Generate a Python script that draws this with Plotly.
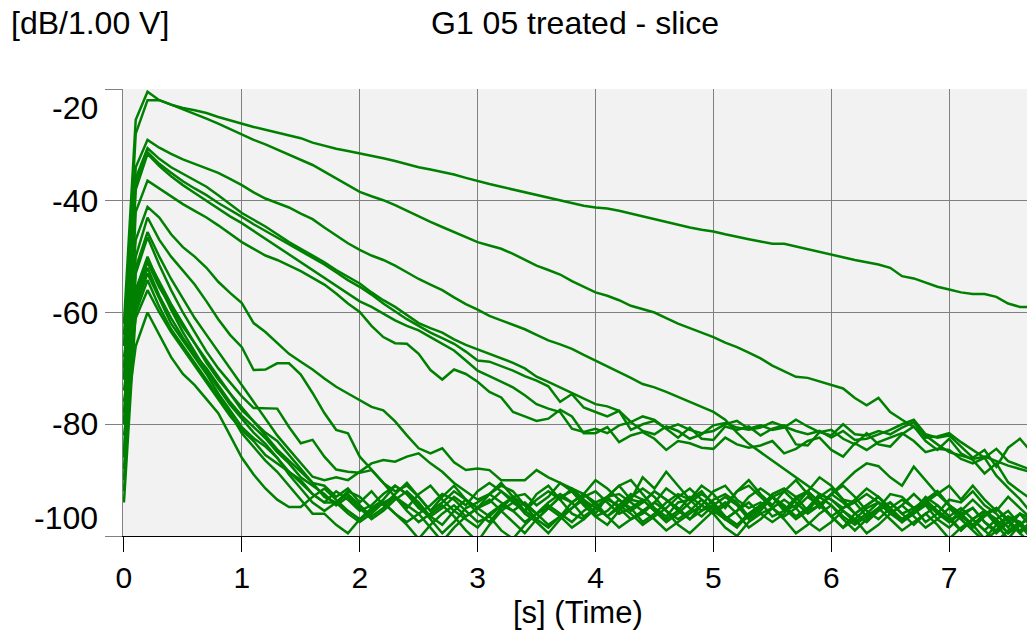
import plotly.graph_objects as go

# time axis [s]
time_s = [0.0, 0.1, 0.2, 0.3, 0.4, 0.5, 0.6, 0.7, 0.8, 0.9,
          1.0, 1.1, 1.2, 1.3, 1.4, 1.5, 1.6, 1.7, 1.8, 1.9,
          2.0, 2.1, 2.2, 2.3, 2.4, 2.5, 2.6, 2.7, 2.8, 2.9,
          3.0, 3.1, 3.2, 3.3, 3.4, 3.5, 3.6, 3.7, 3.8, 3.9,
          4.0, 4.1, 4.2, 4.3, 4.4, 4.5, 4.6, 4.7, 4.8, 4.9,
          5.0, 5.1, 5.2, 5.3, 5.4, 5.5, 5.6, 5.7, 5.8, 5.9,
          6.0, 6.1, 6.2, 6.3, 6.4, 6.5, 6.6, 6.7, 6.8, 6.9,
          7.0, 7.1, 7.2, 7.3, 7.4, 7.5, 7.6, 7.7]

# slice levels [dB/1.00 V]
slice_01 = [-62, -25.5, -20.5, -22.0, -22.8, -23.4, -23.8, -24.3, -25.0, -25.6,
            -26.3, -26.8, -27.3, -27.8, -28.2, -28.8, -29.6, -30.2, -30.7, -31.1,
            -31.5, -32.0, -32.4, -32.9, -33.5, -34.0, -34.4, -34.8, -35.3, -35.9,
            -36.5, -37.0, -37.5, -38.0, -38.5, -39.0, -39.4, -39.9, -40.4, -40.9,
            -41.2, -41.4, -41.8, -42.3, -42.8, -43.3, -43.9, -44.4, -44.8, -45.2,
            -45.5, -46.0, -46.5, -46.9, -47.3, -47.7, -47.7, -48.2, -48.7, -49.2,
            -49.7, -50.1, -50.6, -51.0, -51.4, -52.0, -53.5, -53.9, -54.6, -55.4,
            -55.9, -56.4, -56.7, -56.7, -57.2, -58.4, -59.0, -59.0]
slice_02 = [-66, -28, -22, -22, -22.8, -23.6, -24.4, -25.3, -26.2, -27.2,
            -28.2, -29.1, -29.9, -30.8, -31.8, -32.7, -33.6, -34.8, -36.0, -37.2,
            -38.4, -39.2, -39.9, -40.8, -41.8, -42.9, -43.8, -44.7, -45.6, -46.5,
            -47.4, -48.0, -48.6, -49.5, -50.6, -51.6, -52.4, -53.2, -54.4, -55.4,
            -56.4, -57.0, -57.8, -58.8, -59.4, -60.0, -61.0, -62.0, -62.8, -63.6,
            -64.4, -65.4, -66.2, -67.2, -68.2, -69.5, -70.5, -71.5, -71.7, -72.3,
            -73.0, -73.6, -75.3, -76.6, -75.3, -77.8, -79.2, -80.5, -82.0, -83.6,
            -85.0, -85.6, -86.2, -85.8, -86.6, -87.4, -88.0, -88.6]
slice_03 = [-70, -34, -29.1, -30.5, -31.6, -32.6, -33.4, -34.2, -35.0, -36.1,
            -37.2, -38.5, -39.6, -40.4, -41.2, -42.3, -43.3, -44.8, -46.2, -47.6,
            -48.8, -49.8, -50.6, -51.6, -52.8, -54.0, -55.0, -56.0, -57.3, -58.5,
            -59.5, -60.6, -61.4, -62.2, -63.0, -64.0, -65.0, -65.7, -66.5, -67.6,
            -68.6, -69.6, -70.6, -71.7, -72.8, -73.4, -74.2, -75.1, -76.0, -76.8,
            -77.8, -79.2, -81.5, -83.5, -85.0, -86.5, -88.0, -89.5, -91.0, -92.5,
            -93.5, -95.0, -94.0, -92.5, -94.0, -96.0, -97.5, -96.0, -94.5, -95.5,
            -97.0, -99.0, -97.0, -95.5, -97.0, -99.5, -98.0, -100.0]
slice_04 = [-64, -36, -30.6, -32.5, -34.0, -35.2, -36.4, -37.5, -39.0, -40.6,
            -42.2, -43.4, -44.6, -46.0, -47.4, -48.6, -49.8, -51.0, -52.4, -53.6,
            -54.8, -56.4, -57.8, -59.0, -60.4, -61.9, -62.8, -63.6, -64.8, -65.8,
            -66.6, -67.4, -68.2, -69.0, -70.0, -71.5, -72.4, -73.4, -74.4, -75.4,
            -76.4, -76.8, -77.6, -79.6, -78.6, -79.2, -80.8, -80.0, -81.0, -81.6,
            -81.2, -80.0, -79.4, -80.8, -80.2, -81.0, -80.6, -79.2, -80.4, -81.4,
            -82.0, -80.0, -81.8, -82.0, -81.2, -81.8, -80.6, -79.6, -82.4, -82.2,
            -81.6, -83.2, -84.6, -86.0, -84.4, -86.6, -87.4, -88.2]
slice_05 = [-72, -37, -31.3, -33.4, -35.0, -36.5, -37.8, -39.0, -40.4, -41.6,
            -42.9, -44.2, -45.4, -46.6, -47.8, -49.0, -50.2, -51.4, -52.8, -54.2,
            -55.4, -56.8, -58.4, -59.8, -61.2, -62.4, -63.6, -64.6, -65.6, -67.0,
            -68.6, -68.8, -69.6, -70.4, -71.4, -72.2, -73.2, -76.0, -74.6, -77.0,
            -77.8, -78.6, -77.6, -81.0, -80.0, -79.4, -80.8, -82.4, -80.6, -82.6,
            -82.8, -80.4, -81.0, -80.4, -82.0, -80.8, -80.2, -83.6, -83.8, -81.4,
            -81.0, -82.6, -83.6, -81.6, -83.6, -84.0, -81.8, -80.4, -83.0, -84.6,
            -82.6, -85.2, -86.4, -88.8, -87.0, -90.4, -92.0, -93.5]
slice_06 = [-80, -38, -31.6, -33.8, -35.6, -37.2, -38.6, -40.0, -41.4, -42.8,
            -44.0, -45.4, -46.8, -48.2, -49.6, -51.0, -52.4, -53.8, -55.2, -56.6,
            -58.0, -59.0, -60.2, -61.4, -62.4, -63.2, -64.4, -65.6, -66.8, -68.6,
            -70.4, -71.4, -72.4, -73.4, -74.8, -76.4, -77.2, -77.8, -80.8, -81.4,
            -80.8, -81.6, -80.2, -79.6, -81.2, -81.8, -80.4, -81.2, -82.6, -81.8,
            -80.2, -79.8, -80.6, -81.0, -80.6, -79.6, -80.4, -81.2, -81.8, -81.2,
            -82.4, -81.2, -82.8, -82.6, -81.8, -81.0, -80.0, -79.2, -81.8, -82.4,
            -82.0, -84.0, -86.0, -84.6, -87.6, -84.2, -82.6, -85.0]
slice_07 = [-86, -42, -36.4, -37.8, -39.2, -40.6, -41.8, -43.0, -44.4, -45.9,
            -47.4, -48.6, -49.8, -50.6, -51.6, -52.6, -53.8, -55.0, -56.6, -58.4,
            -59.9, -62.4, -64.4, -65.5, -65.6, -67.4, -70.3, -72.0, -70.2, -71.0,
            -72.4, -74.2, -75.2, -77.8, -78.6, -79.4, -79.0, -77.4, -78.6, -81.6,
            -81.6, -80.5, -83.2, -82.0, -81.4, -82.6, -84.6, -83.0, -83.4, -84.2,
            -84.4, -82.4, -83.6, -84.2, -83.8, -83.0, -85.2, -84.4, -83.0, -82.4,
            -84.6, -85.8, -83.4, -84.6, -83.2, -82.4, -81.6, -83.0, -85.0, -84.4,
            -84.6, -86.2, -87.0, -86.0, -89.2, -91.4, -93.4, -96.0]
slice_08 = [-72, -47, -41.1, -43.0, -46.0, -48.3, -50.0, -52.0, -54.5, -56.5,
            -58.3, -61.9, -63.5, -65.5, -67.4, -68.8, -70.2, -71.8, -73.3, -74.5,
            -75.7, -76.9, -77.5, -79.5, -82.0, -84.3, -85.2, -84.3, -86.8, -88.2,
            -87.9, -88.2, -90.0, -90.0, -90.0, -88.2, -89.5, -90.5, -91.5, -92.5,
            -94.0, -93.0, -91.0, -90.0, -92.5, -95.0, -96.5, -94.0, -93.5, -92.0,
            -94.5, -97.0, -95.5, -93.0, -91.5, -93.0, -95.5, -94.5, -92.0, -89.5,
            -91.0, -93.5, -94.0, -96.5, -95.0, -92.5, -93.0, -95.0, -97.5, -96.0,
            -93.5, -94.0, -92.0, -94.5, -96.0, -98.5, -96.0, -97.0]
slice_09 = [-78, -50, -43.0, -47.0, -50.0, -52.4, -55.0, -58.0, -61.2, -64.0,
            -66.2, -70.3, -70.2, -69.1, -69.1, -71.1, -74.4, -78.0, -81.0, -81.6,
            -85.8, -88.1, -90.5, -92.0, -91.0, -93.0, -95.5, -94.0, -92.0, -93.5,
            -96.0, -97.5, -95.0, -93.0, -92.5, -94.5, -93.0, -90.5, -92.0, -94.5,
            -96.5, -98.0, -95.5, -93.5, -94.0, -92.0, -93.5, -95.5, -97.0, -94.5,
            -92.0, -91.0, -93.5, -95.0, -94.0, -96.5, -95.5, -93.0, -92.0, -94.0,
            -96.5, -95.0, -93.5, -91.5, -93.0, -95.5, -97.5, -96.0, -94.0, -92.5,
            -94.5, -96.0, -95.0, -97.5, -99.0, -96.5, -97.5, -100.0]
slice_10 = [-85, -52, -45.6, -50.0, -54.0, -57.5, -61.0, -64.0, -67.0, -70.0,
            -73.0, -76.0, -79.0, -82.0, -84.5, -87.0, -89.4, -90.0, -89.5, -90.0,
            -88.5, -87.0, -86.4, -86.7, -85.8, -85.2, -87.0, -88.5, -90.5, -92.0,
            -93.5, -92.5, -91.0, -92.0, -94.5, -96.0, -95.0, -93.0, -94.0, -92.5,
            -90.0, -91.5, -93.5, -95.5, -94.0, -92.0, -93.5, -95.0, -97.0, -95.5,
            -93.5, -92.5, -94.0, -96.5, -95.0, -92.5, -91.5, -93.0, -95.5, -94.5,
            -92.5, -94.0, -96.0, -94.5, -93.0, -95.0, -97.5, -95.5, -93.5, -92.0,
            -94.5, -96.0, -98.5, -96.5, -95.0, -97.0, -99.5, -97.5]
slice_11 = [-90, -53, -46.5, -51.5, -56.0, -60.0, -63.5, -67.0, -70.0, -72.5,
            -75.0, -77.1, -77.1, -77.2, -80.5, -83.4, -82.8, -85.8, -88.1, -88.5,
            -88.7, -88.2, -90.5, -93.0, -95.5, -97.5, -96.0, -94.5, -96.5, -99.0,
            -101.0, -98.0, -95.5, -94.0, -95.5, -97.0, -95.0, -93.0, -92.0, -94.0,
            -96.5, -95.5, -93.5, -95.0, -97.5, -96.0, -94.0, -92.5, -93.5, -95.5,
            -94.5, -96.5, -98.0, -96.5, -94.5, -93.0, -95.0, -96.5, -95.0, -93.0,
            -94.5, -97.0, -99.0, -97.0, -95.0, -94.0, -96.0, -95.0, -93.5, -95.5,
            -97.5, -96.0, -98.0, -100.5, -98.0, -96.5, -98.0, -99.5]
slice_12 = [-68, -56, -50.0, -55.0, -59.5, -63.5, -67.0, -70.5, -73.5, -76.5,
            -79.0, -81.5, -83.5, -86.0, -88.5, -90.5, -92.5, -94.0, -92.0, -93.5,
            -95.5, -94.5, -92.5, -91.0, -92.5, -95.0, -96.5, -95.0, -93.0, -94.5,
            -92.0, -90.5, -92.0, -94.0, -95.5, -93.5, -92.0, -93.5, -96.0, -97.0,
            -95.0, -93.0, -92.5, -94.0, -95.5, -94.0, -91.5, -93.0, -95.0, -96.5,
            -94.5, -93.0, -94.5, -97.0, -95.5, -93.0, -92.0, -94.0, -96.0, -94.5,
            -92.5, -91.0, -93.0, -95.5, -97.0, -95.0, -93.5, -95.0, -94.0, -92.0,
            -94.5, -96.5, -98.0, -96.0, -95.0, -97.5, -99.0, -97.5]
slice_13 = [-74, -57, -51.0, -55.5, -59.0, -62.5, -65.5, -68.5, -71.5, -74.5,
            -77.5, -79.5, -81.5, -83.0, -85.5, -88.0, -90.5, -93.0, -94.0, -96.0,
            -97.5, -96.0, -94.0, -93.0, -95.0, -92.5, -91.0, -93.5, -95.5, -97.0,
            -98.5, -96.0, -94.5, -95.5, -97.5, -96.0, -94.0, -92.5, -94.0, -96.5,
            -95.0, -93.5, -94.5, -96.0, -98.0, -96.5, -95.0, -93.0, -91.5, -93.5,
            -95.5, -97.0, -95.5, -94.0, -96.0, -97.5, -96.0, -93.5, -92.0, -94.0,
            -96.5, -98.5, -97.0, -95.0, -94.0, -96.0, -94.5, -92.5, -94.5, -97.0,
            -98.5, -96.5, -95.0, -97.5, -99.5, -97.5, -96.0, -98.5]
slice_14 = [-80, -58, -52.0, -57.0, -61.0, -64.5, -67.5, -70.0, -73.0, -76.0,
            -78.5, -80.5, -82.5, -85.0, -87.0, -89.5, -91.0, -92.5, -94.5, -93.0,
            -95.0, -97.0, -95.5, -93.5, -92.0, -94.0, -96.5, -98.0, -95.5, -93.5,
            -95.0, -94.0, -92.0, -93.5, -96.0, -97.5, -99.5, -97.0, -95.0, -93.5,
            -95.0, -96.5, -94.5, -92.5, -93.5, -95.5, -97.0, -95.5, -93.0, -94.5,
            -96.0, -94.5, -92.0, -91.0, -93.0, -95.0, -96.5, -95.0, -93.0, -94.5,
            -96.5, -98.5, -96.0, -94.5, -93.0, -95.0, -97.0, -95.5, -94.0, -96.0,
            -97.5, -95.5, -93.5, -95.5, -98.0, -100.5, -98.0, -96.5]
slice_15 = [-88, -59, -53.0, -57.5, -62.0, -65.0, -68.0, -71.0, -74.5, -77.5,
            -80.5, -82.5, -84.0, -86.0, -89.0, -91.5, -94.0, -95.5, -94.0, -92.0,
            -93.0, -95.0, -93.5, -91.0, -92.5, -94.5, -97.0, -99.5, -97.5, -95.0,
            -94.0, -92.5, -94.0, -95.5, -94.0, -96.0, -98.0, -96.5, -94.0, -92.5,
            -94.5, -96.5, -95.0, -93.0, -91.5, -93.0, -95.5, -97.0, -95.5, -93.5,
            -95.0, -97.0, -98.5, -96.0, -94.5, -93.0, -94.5, -96.5, -95.0, -92.5,
            -93.5, -95.5, -97.5, -96.0, -94.0, -95.5, -97.0, -95.5, -93.0, -94.5,
            -96.5, -95.0, -97.0, -99.0, -97.0, -95.5, -98.0, -100.5]
slice_16 = [-94, -60, -54.2, -59.0, -63.0, -66.0, -69.0, -72.0, -75.0, -78.0,
            -81.6, -84.0, -86.5, -88.5, -91.0, -93.5, -96.0, -96.0, -98.0, -99.5,
            -97.0, -95.0, -94.0, -96.0, -97.5, -96.0, -98.5, -101.0, -98.5, -96.5,
            -95.0, -96.5, -99.0, -100.5, -98.0, -96.0, -94.5, -96.0, -97.5, -95.5,
            -94.0, -96.5, -98.5, -97.0, -95.5, -97.0, -99.0, -97.5, -96.0, -94.5,
            -96.0, -98.5, -100.0, -97.5, -96.0, -95.0, -97.0, -99.5, -98.0, -96.0,
            -94.5, -96.5, -98.0, -96.5, -95.0, -97.0, -99.0, -97.5, -96.0, -98.0,
            -100.5, -98.5, -97.0, -99.0, -101.0, -99.0, -97.5, -100.0]
slice_17 = [-76, -61, -56.0, -60.0, -63.5, -66.5, -69.5, -72.5, -75.5, -78.5,
            -81.0, -83.0, -85.5, -87.0, -88.5, -90.0, -92.5, -94.0, -94.0, -92.5,
            -94.5, -96.5, -95.0, -93.0, -94.5, -96.0, -94.5, -92.5, -93.5, -95.5,
            -97.5, -96.5, -94.5, -93.0, -94.5, -97.0, -98.5, -96.5, -95.0, -93.0,
            -92.0, -94.0, -96.0, -95.0, -93.5, -95.5, -97.5, -96.0, -94.0, -92.5,
            -94.0, -96.5, -98.0, -96.0, -94.5, -93.0, -95.0, -97.0, -95.5, -93.0,
            -91.5, -93.5, -96.0, -97.5, -95.5, -94.0, -96.0, -98.0, -96.0, -94.5,
            -96.5, -99.0, -97.0, -95.5, -97.5, -99.5, -98.0, -96.0]
slice_18 = [-82, -66, -60.0, -64.0, -68.0, -71.0, -73.0, -75.5, -78.0, -82.0,
            -86.0, -89.0, -91.5, -93.5, -94.8, -94.8, -93.0, -91.5, -93.5, -95.5,
            -97.0, -95.5, -94.0, -96.0, -98.0, -100.5, -98.0, -96.0, -94.5, -96.5,
            -95.0, -93.5, -95.5, -97.5, -99.5, -97.0, -95.0, -96.5, -98.5, -97.0,
            -95.0, -93.0, -95.0, -97.0, -96.0, -94.0, -95.5, -98.0, -99.5, -97.5,
            -95.5, -94.0, -96.0, -98.5, -97.0, -95.0, -93.5, -95.0, -97.5, -99.0,
            -97.5, -95.5, -97.0, -99.5, -98.0, -96.0, -94.5, -96.5, -98.5, -97.0,
            -95.0, -97.0, -99.0, -101.0, -99.0, -97.5, -99.5, -101.5]
slice_19 = [-92, -56, -50.5, -54.5, -58.5, -62.0, -65.5, -69.0, -72.0, -74.5,
            -77.0, -79.5, -82.0, -84.5, -86.5, -88.5, -90.5, -91.0, -93.0, -91.5,
            -94.0, -92.0, -94.5, -92.5, -90.5, -93.0, -95.5, -93.0, -91.0, -93.5,
            -95.0, -92.5, -90.5, -93.0, -95.5, -92.5, -91.0, -93.5, -91.5, -93.5,
            -96.0, -93.0, -91.0, -93.5, -89.5, -91.5, -88.5, -91.0, -93.5, -91.0,
            -92.5, -95.0, -92.0, -90.0, -92.5, -94.5, -92.0, -90.0, -92.5, -95.0,
            -92.5, -90.5, -88.5, -87.0, -87.5, -89.5, -91.0, -87.6, -90.0, -92.5,
            -91.0, -93.5, -91.0, -93.5, -95.5, -93.0, -95.0, -97.0]

slices = [slice_01, slice_02, slice_03, slice_04, slice_05, slice_06, slice_07,
          slice_08, slice_09, slice_10, slice_11, slice_12, slice_13, slice_14,
          slice_15, slice_16, slice_17, slice_18, slice_19]

y_tick_values = [-100, -80, -60, -40, -20]
y_tick_labels = ["-100", "-80", "-60", "-40", "-20"]
x_tick_values = [0, 1, 2, 3, 4, 5, 6, 7]

FONT = "Liberation Sans, Arial, Helvetica, sans-serif"
FS = 32
GREEN = "#008000"
GRID = "#808080"

fig = go.Figure()
for s in slices:
    n = min(len(s), len(time_s))
    fig.add_trace(go.Scatter(x=time_s[:n], y=s[:n], mode="lines",
                             line=dict(color=GREEN, width=2.5),
                             showlegend=False, hoverinfo="skip"))

fig.update_layout(
    width=1027, height=630,
    margin=dict(l=123, r=0, t=89, b=94, pad=0),
    paper_bgcolor="white", plot_bgcolor="#f2f2f2",
    font=dict(family=FONT, size=FS, color="black"),
    showlegend=False,
)
fig.update_xaxes(
    range=[-0.008, 7.66], tickvals=x_tick_values,
    ticks="outside", ticklen=15, tickcolor="black", tickwidth=1,
    showline=True, linecolor="black", linewidth=1,
    showgrid=True, gridcolor=GRID, gridwidth=1, zeroline=False,
    tickfont=dict(family=FONT, size=30, color="black"),
)
fig.update_yaxes(
    range=[-100, -20], tickvals=y_tick_values,
    ticks="outside", ticklen=17, tickcolor=GRID, tickwidth=1,
    showline=True, linecolor=GRID, linewidth=1,
    showgrid=True, gridcolor=GRID, gridwidth=1, zeroline=False,
    showticklabels=False,
)

annotations = []
for v, lab in zip(y_tick_values, y_tick_labels):
    shift = 0
    if v == -20:
        shift = -19
    elif v == -100:
        shift = 18
    annotations.append(dict(x=0, xref="paper", y=v, yref="y", text=lab,
                            showarrow=False, xanchor="right", yanchor="middle",
                            xshift=-23, yshift=shift,
                            font=dict(family=FONT, size=FS, color="black")))
annotations.append(dict(x=0, xref="paper", y=1, yref="paper", text="[dB/1.00 V]",
                        showarrow=False, xanchor="left", yanchor="middle",
                        xshift=-114, yshift=66,
                        font=dict(family=FONT, size=FS, color="black")))
annotations.append(dict(x=0.5, xref="paper", y=1, yref="paper", text="G1 05 treated - slice",
                        showarrow=False, xanchor="center", yanchor="middle",
                        xshift=0, yshift=66,
                        font=dict(family=FONT, size=FS, color="black")))
annotations.append(dict(x=0.5, xref="paper", y=0, yref="paper", text="[s] (Time)",
                        showarrow=False, xanchor="center", yanchor="middle",
                        xshift=3, yshift=-76,
                        font=dict(family=FONT, size=31, color="black")))
fig.update_layout(annotations=annotations)

fig.write_html("out.html")
